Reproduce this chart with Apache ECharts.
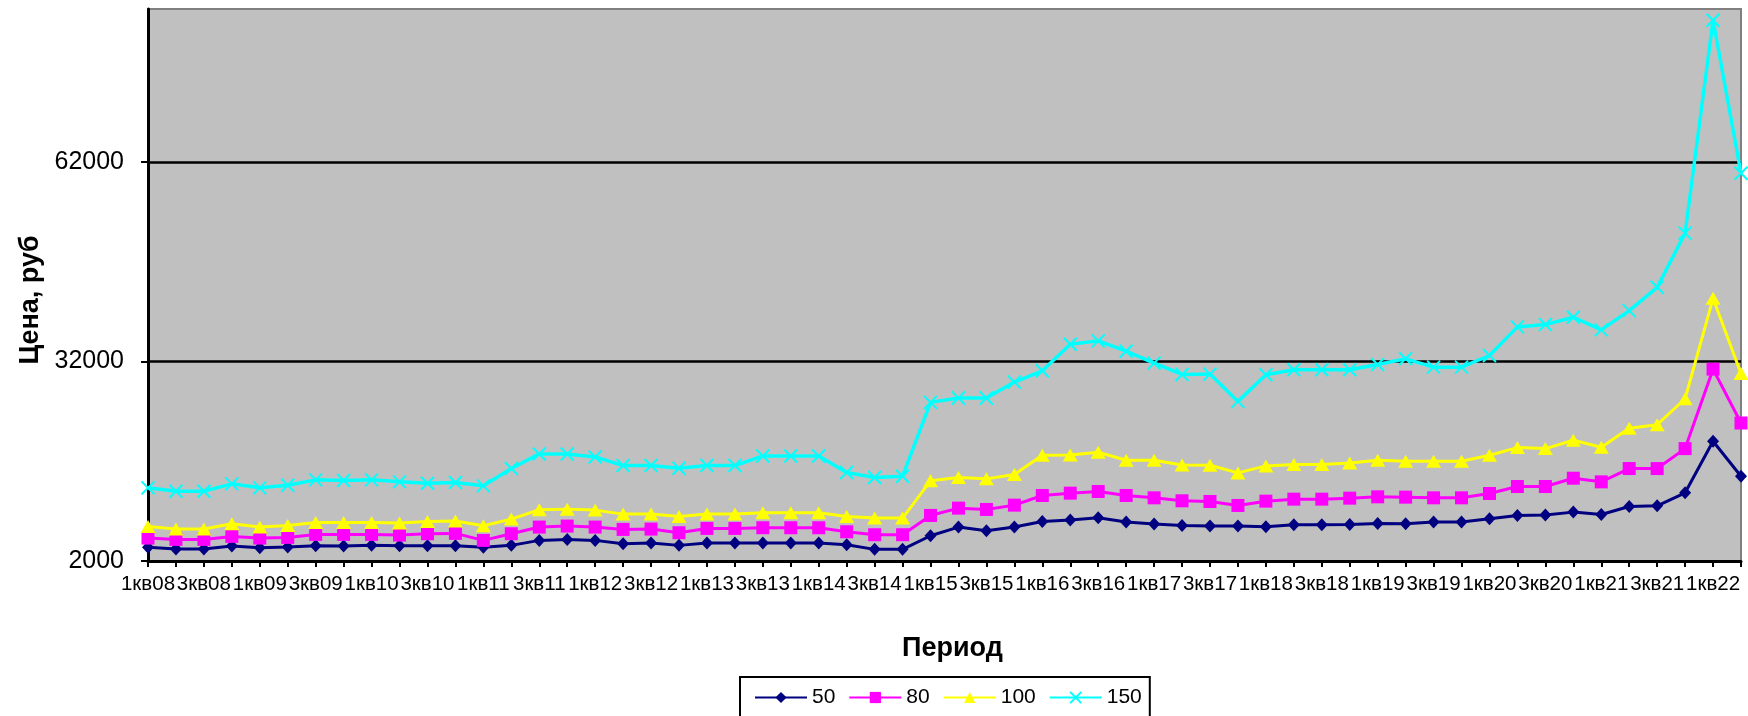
<!DOCTYPE html>
<html>
<head>
<meta charset="utf-8">
<title>Цена по периодам</title>
<script src="https://cdn.jsdelivr.net/npm/echarts@6/dist/echarts.min.js"></script>
<style>
  html, body { margin: 0; padding: 0; background: #fff; }
  #chart { width: 1748px; height: 716px; }
</style>
</head>
<body>
<div id="chart"></div>
<script>
// квартальные периоды 1кв08 .. 2кв22
const periods = [
  '1кв08', '2кв08', '3кв08', '4кв08', '1кв09', '2кв09', '3кв09', '4кв09',
  '1кв10', '2кв10', '3кв10', '4кв10', '1кв11', '2кв11', '3кв11', '4кв11',
  '1кв12', '2кв12', '3кв12', '4кв12', '1кв13', '2кв13', '3кв13', '4кв13',
  '1кв14', '2кв14', '3кв14', '4кв14', '1кв15', '2кв15', '3кв15', '4кв15',
  '1кв16', '2кв16', '3кв16', '4кв16', '1кв17', '2кв17', '3кв17', '4кв17',
  '1кв18', '2кв18', '3кв18', '4кв18', '1кв19', '2кв19', '3кв19', '4кв19',
  '1кв20', '2кв20', '3кв20', '4кв20', '1кв21', '2кв21', '3кв21', '4кв21',
  '1кв22', '2кв22'
]

const price50 = [
  4050, 3800, 3800, 4250, 4000, 4100, 4300, 4250, 4350, 4300, 4300, 4300,
  4050, 4350, 5100, 5250, 5100, 4600, 4700, 4350, 4700, 4700, 4700, 4700,
  4700, 4450, 3750, 3750, 5800, 7100, 6550, 7100, 7950, 8150, 8500, 7850,
  7550, 7350, 7250, 7250, 7150, 7450, 7450, 7500, 7650, 7600, 7850, 7850,
  8350, 8850, 8900, 9350, 9000, 10200, 10300, 12250, 20000, 14750
]
const price80 = [
  5450, 5250, 5250, 5700, 5450, 5550, 6000, 6000, 6000, 5900, 6100, 6150,
  5100, 6100, 7100, 7250, 7100, 6750, 6800, 6250, 6900, 6900, 7000, 7000,
  7000, 6400, 5950, 5950, 8850, 9950, 9750, 10400, 11850, 12200, 12450, 11850,
  11500, 11050, 10950, 10350, 11000, 11300, 11300, 11450, 11650, 11600, 11500, 11500,
  12150, 13200, 13200, 14450, 13900, 15900, 15900, 18900, 30850, 22750
]
const price100 = [
  7200, 6800, 6800, 7600, 7100, 7350, 7800, 7800, 7800, 7700, 7950, 8000,
  7300, 8300, 9700, 9800, 9650, 9050, 9050, 8700, 9050, 9050, 9250, 9250,
  9250, 8700, 8450, 8450, 14050, 14550, 14350, 15000, 17900, 17950, 18350, 17150,
  17150, 16450, 16400, 15250, 16300, 16500, 16500, 16750, 17150, 17000, 17000, 17000,
  17900, 19050, 18900, 20150, 19100, 21950, 22500, 26400, 41500, 30200
]
const price150 = [
  13000, 12500, 12500, 13600, 13000, 13400, 14200, 14100, 14200, 13900, 13700, 13800,
  13300, 15900, 18100, 18100, 17650, 16350, 16350, 15950, 16350, 16350, 17800, 17800,
  17800, 15300, 14550, 14750, 25850, 26500, 26500, 28900, 30600, 34600, 35100, 33550,
  31750, 30050, 30100, 26000, 30000, 30750, 30750, 30750, 31550, 32400, 31150, 31150,
  32900, 37200, 37550, 38650, 36750, 39650, 43150, 51300, 83300, 60300
]

const yTicks = [2000, 32000, 62000]

const font = "'Liberation Sans', Arial, sans-serif"
const crossMark = 'path://M0,0L10,10M10,0L0,10'

const chart = echarts.init(document.getElementById('chart'))

function makeSeries(name, data, color, symbol, size, lineWidth, stroke) {
  return {
    name: name,
    type: 'line',
    data: data,
    symbol: symbol,
    symbolSize: size,
    showAllSymbol: true,
    lineStyle: {color: color, width: lineWidth},
    itemStyle: {
      color: stroke ? 'rgba(0,0,0,0)' : color,
      borderColor: color,
      borderWidth: stroke ? 2 : 0
    },
    emphasis: {disabled: true}
  }
}

chart.setOption({
  animation: false,
  textStyle: {fontFamily: font},
  grid: {
    left: 148,
    right: 7,
    top: 9,
    bottom: 155,
    show: true,
    backgroundColor: '#C0C0C0',
    borderColor: '#808080',
    borderWidth: 2
  },
  legend: {
    left: 740,
    top: 677,
    padding: [10, 8, 20, 14],
    borderColor: '#000',
    borderWidth: 2,
    itemWidth: 52,
    itemHeight: 14,
    itemGap: 13,
    textStyle: {fontSize: 21, color: '#000', fontFamily: font},
    data: ['50', '80', '100', '150']
  },
  xAxis: {
    type: 'category',
    data: periods,
    boundaryGap: false,
    name: 'Период',
    nameLocation: 'middle',
    nameGap: 74,
    nameTextStyle: {fontSize: 27, fontWeight: 'bold', color: '#000', padding: [0, 0, 0, 16]},
    axisLine: {lineStyle: {color: '#000', width: 3}},
    axisTick: {interval: 0, length: 6, lineStyle: {color: '#000', width: 2}},
    axisLabel: {interval: 1, margin: 13, fontSize: 20.5, color: '#000', showMinLabel: true},
    splitLine: {show: false}
  },
  yAxis: {
    type: 'value',
    min: 2000,
    max: 85000,
    interval: 30000,
    name: 'Цена, руб',
    nameLocation: 'middle',
    nameGap: 104,
    nameTextStyle: {fontSize: 27, fontWeight: 'bold', color: '#000', padding: [0, 30, 0, 0]},
    axisLine: {show: true, lineStyle: {color: '#000', width: 3}},
    axisTick: {show: true, length: 7, customValues: yTicks, lineStyle: {color: '#000', width: 2}},
    axisLabel: {
      margin: 24,
      fontSize: 25,
      color: '#000',
      customValues: yTicks,
      formatter: v => String(v)
    },
    splitLine: {show: true, showMinLine: false, lineStyle: {color: '#000', width: 2.5}}
  },
  series: [
    makeSeries('50', price50, '#000080', 'diamond', [12, 13], 3, false),
    makeSeries('80', price80, '#FF00FF', 'rect', 13, 3, false),
    makeSeries('100', price100, '#FFFF00', 'triangle', [15, 13], 3, false),
    makeSeries('150', price150, '#00FFFF', crossMark, 13, 3.5, true)
  ]
})
</script>
</body>
</html>
